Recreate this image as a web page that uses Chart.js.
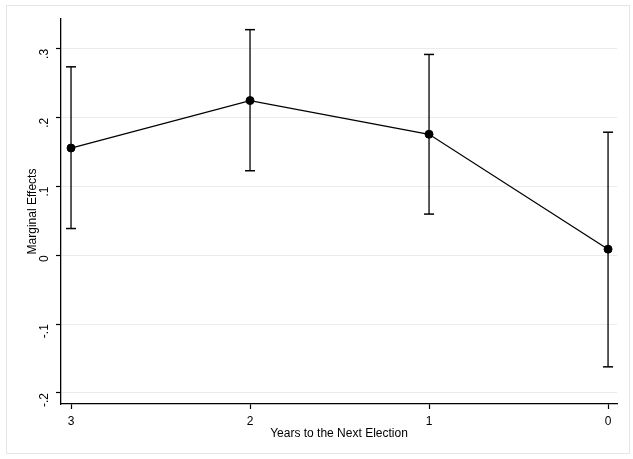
<!DOCTYPE html>
<html>
<head>
<meta charset="utf-8">
<script src="https://cdn.jsdelivr.net/npm/chart.js@4"></script>
<style>
    html, body { margin: 0; padding: 0; background: #fff; }
    #wrap { position: relative; width: 633px; height: 459px; }
    #frame { position: absolute; left: 6px; top: 5px; width: 624px; height: 449px; border: 1px solid #e6e6e6; box-sizing: border-box; pointer-events: none; }
    #chart { position: absolute; left: 0; top: 0; }
</style>
</head>
<body>
<div id="wrap">
    <canvas id="chart" width="633" height="459"></canvas>
    <div id="frame"></div>
</div>
<script>
// Dữ liệu
const years = [3, 2, 1, 0];
const effects = [0.156, 0.225, 0.176, 0.009];
const lower = [0.039, 0.123, 0.060, -0.162];
const upper = [0.274, 0.328, 0.292, 0.179];
const yTicks = [-0.2, -0.1, 0, 0.1, 0.2, 0.3];
const yTickLabels = ['-.2', '-.1', '0', '.1', '.2', '.3'];

const FONT = '"Liberation Sans", Arial, Helvetica, sans-serif';

// whisker: mỗi năm một đoạn thẳng
const whiskers = years.map((yr, i) => ({
    type: 'line',
    data: [{ x: yr, y: lower[i] }, { x: yr, y: upper[i] }],
    borderColor: '#000',
    borderWidth: 1.3,
    pointRadius: 0,
    order: 3,
}));

const caps = {
    type: 'scatter',
    data: years.map((yr, i) => ({ x: yr, y: lower[i] })).concat(years.map((yr, i) => ({ x: yr, y: upper[i] }))),
    pointStyle: 'line',
    pointRadius: 5,
    borderColor: '#000',
    borderWidth: 1.5,
    order: 2,
};

const mainLine = {
    type: 'line',
    data: years.map((yr, i) => ({ x: yr, y: effects[i] })),
    borderColor: '#000',
    borderWidth: 1.3,
    pointRadius: 4,
    pointBorderWidth: 1,
    pointBackgroundColor: '#000',
    pointBorderColor: '#000',
    tension: 0,
    order: 1,
};

new Chart(document.getElementById('chart'), {
    type: 'line',
    data: { datasets: [mainLine, caps, ...whiskers] },
    options: {
        responsive: false,
        animation: false,
        devicePixelRatio: 1,
        layout: { padding: { left: 25, top: 19, right: 16, bottom: 18 } },
        plugins: { legend: { display: false }, tooltip: { enabled: false } },
        scales: {
            x: {
                type: 'linear',
                reverse: true,
                min: -0.05,
                max: 3.056,
                afterBuildTicks: s => { s.ticks = years.map(v => ({ value: v })); },
                afterFit: s => { s.height = 37; },
                ticks: {
                    color: '#000',
                    font: { family: FONT, size: 12 },
                    padding: 5,
                    callback: v => String(v),
                    maxRotation: 0,
                },
                grid: { drawOnChartArea: false, drawTicks: true, tickLength: 5, tickColor: '#000', tickWidth: 1.2 },
                border: { display: true, color: '#000', width: 1.3 },
                title: { display: true, text: 'Years to the Next Election', color: '#000', font: { family: FONT, size: 12 }, padding: { top: 0, bottom: 0 } },
            },
            y: {
                type: 'linear',
                min: -0.216,
                max: 0.3435,
                afterBuildTicks: s => { s.ticks = yTicks.map(v => ({ value: v })); },
                afterFit: s => { s.width = 36; },
                ticks: {
                    color: '#000',
                    font: { family: FONT, size: 12 },
                    padding: 11,
                    minRotation: 90,
                    maxRotation: 90,
                    callback: v => yTickLabels[yTicks.findIndex(t => Math.abs(t - v) < 1e-9)],
                },
                grid: { color: '#ebebeb', lineWidth: 1, drawTicks: true, tickLength: 5, tickColor: '#000', tickWidth: 1.2 },
                border: { display: true, color: '#000', width: 1.3 },
                title: { display: true, text: 'Marginal Effects', color: '#000', font: { family: FONT, size: 12 }, padding: { top: 0, bottom: 0 } },
            },
        },
    },
});
</script>
</body>
</html>
